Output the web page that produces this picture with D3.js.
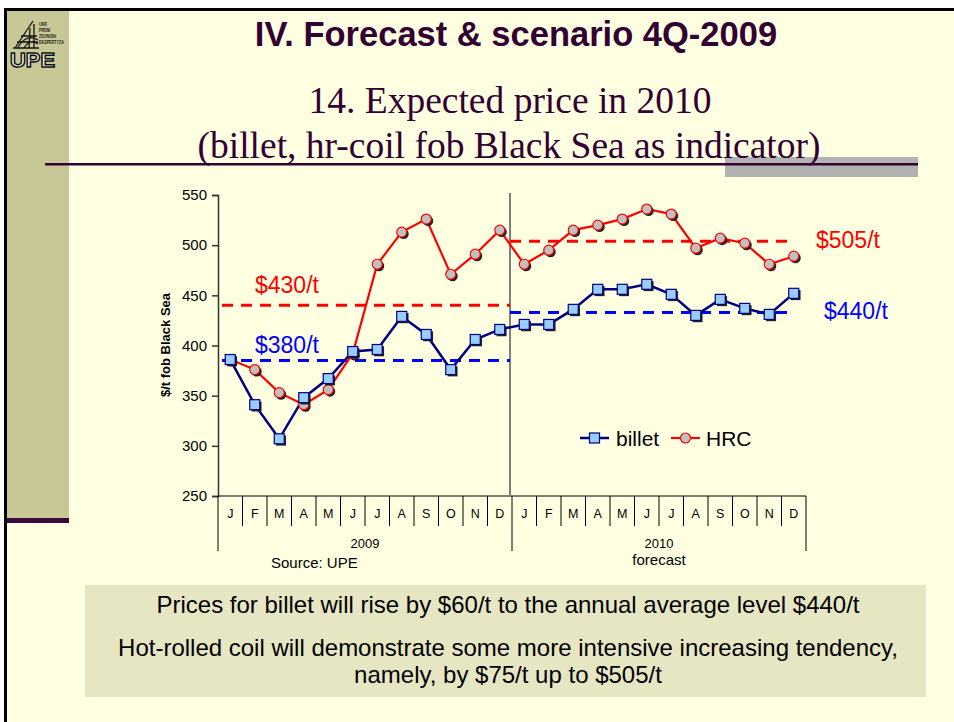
<!DOCTYPE html>
<html>
<head>
<meta charset="utf-8">
<script src="https://cdn.jsdelivr.net/npm/d3@7"></script>
<style>
  body { margin: 0; background: #fff; }
  svg { display: block; }
  text { font-family: Arial, "Liberation Sans", sans-serif; }
</style>
</head>
<body>
<svg width="954" height="722"></svg>
<script>
const months = ["J", "F", "M", "A", "M", "J", "J", "A", "S", "O", "N", "D"];
const years = ["2009", "2010"];
const yearNotes = ["", "forecast"];

// $/t fob Black Sea, Jan 2009 .. Dec 2010
const billet = [386, 341, 307, 348, 367, 394, 396, 429, 411, 376, 406, 416,
                421, 421, 436, 456, 456, 461, 451, 430, 446, 437, 431, 452];
const hrc = [386, 376, 353, 341, 356, 392, 481, 513, 526, 471, 491, 515,
             481, 495, 515, 520, 526, 536, 531, 497, 507, 502, 481, 489];

// yearly average levels (where the dashed lines sit) and their labels
const billetAvg = [385, 433];
const hrcAvg = [440, 504];
const billetAvgLabels = ["$380/t", "$440/t"];
const hrcAvgLabels = ["$430/t", "$505/t"];

const yTicks = [250, 300, 350, 400, 450, 500, 550];

const notes = [
  "Prices for billet will rise by $60/t to the annual average level $440/t",
  "Hot-rolled coil will demonstrate some more intensive increasing tendency,",
  "namely, by $75/t up to $505/t"
];

const periods = years.flatMap(yr => months.map((m, i) => ({ year: yr, month: m, key: yr + "-" + i })));

const svg = d3.select("svg");
const purple = "#330033";
const serif = "'Liberation Serif', 'Times New Roman', serif";

// slide background
svg.append("rect").attr("x", 4).attr("y", 8).attr("width", 950).attr("height", 714).attr("fill", "#ffffe1");
svg.append("rect").attr("x", 7).attr("y", 11).attr("width", 62).attr("height", 507).attr("fill", "#c8c896");
svg.append("rect").attr("x", 7).attr("y", 518).attr("width", 62).attr("height", 5).attr("fill", "#3a0a3a");
svg.append("rect").attr("x", 4).attr("y", 8).attr("width", 950).attr("height", 3).attr("fill", "#000");
svg.append("rect").attr("x", 4).attr("y", 8).attr("width", 3).attr("height", 714).attr("fill", "#000");

// logo
const logo = svg.append("g").attr("stroke", "#111").attr("fill", "none").attr("stroke-width", 1.3);
logo.append("path").attr("d",
  "M15,48 L33,21 M13,48 L39,48 M17,42 L38,42 M21,36 L37,36 M18,47 Q27,33 38,40 M24,48 Q30,38 38,44 M29,48 L30,28 M34,48 L34,24");
["UKR", "PROM", "ZOVNISH", "EKSPERTYZA"].forEach((t, i) => {
  svg.append("text").attr("x", 39).attr("y", 26 + i * 6).attr("font-size", 5).attr("font-weight", "bold")
    .attr("fill", "#222").attr("textLength", [8, 11, 17, 25][i]).attr("lengthAdjust", "spacingAndGlyphs").text(t);
});
svg.append("text").attr("x", 10).attr("y", 67).attr("font-size", 20).attr("font-weight", "bold")
  .attr("fill", "#fff").attr("stroke", "#111").attr("stroke-width", 1.4)
  .attr("textLength", 45).attr("lengthAdjust", "spacingAndGlyphs").text("UPE");

// titles
svg.append("text").attr("x", 516).attr("y", 46).attr("text-anchor", "middle")
  .attr("font-size", 34.5).attr("font-weight", "bold").attr("fill", purple)
  .text("IV. Forecast & scenario 4Q-2009");
svg.append("rect").attr("x", 725).attr("y", 157).attr("width", 193).attr("height", 20).attr("fill", "#b2b2b2");
svg.append("rect").attr("x", 45).attr("y", 163).attr("width", 873).attr("height", 2.5).attr("fill", purple);
svg.append("text").attr("x", 510).attr("y", 113).attr("text-anchor", "middle")
  .style("font-family", serif).attr("font-size", 37.5).attr("fill", purple)
  .text("14. Expected price in 2010");
svg.append("text").attr("x", 509).attr("y", 158).attr("text-anchor", "middle")
  .style("font-family", serif).attr("font-size", 37.5).attr("fill", purple)
  .text("(billet, hr-coil fob Black Sea as indicator)");

// scales
const x = d3.scaleBand().domain(periods.map(d => d.key)).range([218, 806]).padding(0);
const y = d3.scaleLinear().domain([250, 550]).range([496, 195]);
const bw = x.bandwidth();
const cx = i => x(periods[i].key) + bw / 2;
const yearStart = yi => x(years[yi] + "-0");
const yearEnd = yi => x(years[yi] + "-11") + bw;

// y axis
const yAxis = svg.append("g").attr("transform", "translate(218,0)")
  .call(d3.axisLeft(y).tickValues(yTicks).tickSize(6).tickPadding(5));
yAxis.selectAll("path, line").attr("stroke", "#333").attr("stroke-width", 1.5);
yAxis.selectAll("text").attr("font-size", 15).attr("fill", "#000").style("font-family", "Arial, 'Liberation Sans', sans-serif");

svg.append("text").attr("transform", "translate(170,345) rotate(-90)").attr("text-anchor", "middle")
  .attr("font-size", 13).attr("font-weight", "bold").text("$/t fob Black Sea");

// category axis: months then years
const cat = svg.append("g");
cat.append("line").attr("x1", 218).attr("x2", 806).attr("y1", 496).attr("y2", 496)
  .attr("stroke", "#000").attr("stroke-width", 1.2);
cat.selectAll(".sep").data(d3.range(1, 24).filter(i => i % 12 !== 0)).join("line")
  .attr("x1", i => x(periods[i].key)).attr("x2", i => x(periods[i].key))
  .attr("y1", 496).attr("y2", 526).attr("stroke", "#000");
cat.selectAll(".ysep").data([0, 1, 2]).join("line")
  .attr("x1", i => i < 2 ? yearStart(i) : yearEnd(1)).attr("x2", i => i < 2 ? yearStart(i) : yearEnd(1))
  .attr("y1", 496).attr("y2", 551).attr("stroke", "#000");
cat.selectAll(".mlab").data(periods).join("text")
  .attr("x", (d, i) => cx(i)).attr("y", 518).attr("text-anchor", "middle")
  .attr("font-size", 12.5).text(d => d.month);
cat.selectAll(".ylab").data(years).join("text")
  .attr("x", (d, i) => (yearStart(i) + yearEnd(i)) / 2).attr("y", 548).attr("text-anchor", "middle")
  .attr("font-size", 13).text(d => d);
cat.selectAll(".ynote").data(yearNotes).join("text")
  .attr("x", (d, i) => (yearStart(i) + yearEnd(i)) / 2).attr("y", 565).attr("text-anchor", "middle")
  .attr("font-size", 15).text(d => d);
svg.append("text").attr("x", 271).attr("y", 568).attr("font-size", 15).text("Source: UPE");

// divider between actual and forecast
svg.append("line").attr("x1", yearStart(1) - 2).attr("x2", yearStart(1) - 2).attr("y1", 193).attr("y2", 496)
  .attr("stroke", "#808080").attr("stroke-width", 2);

// average dashed lines
const avgX = [[yearStart(0) + 4, yearStart(1) - 2], [yearStart(1) - 2, cx(23) + 1]];
function avgLines(vals, color) {
  svg.selectAll(null).data(vals).join("line")
    .attr("x1", (d, i) => avgX[i][0]).attr("x2", (d, i) => avgX[i][1])
    .attr("y1", d => y(d)).attr("y2", d => y(d))
    .attr("stroke", color).attr("stroke-width", 3).attr("stroke-dasharray", "11,8");
}
avgLines(hrcAvg, "#ff0000");
avgLines(billetAvg, "#0000ff");

const line = d3.line().x((d, i) => cx(i)).y(d => y(d));

// HRC
svg.append("path").datum(hrc).attr("d", line).attr("fill", "none").attr("stroke", "#ff0000").attr("stroke-width", 2.2);
// billet
svg.append("path").datum(billet).attr("d", line).attr("fill", "none").attr("stroke", "#000080").attr("stroke-width", 2.5);

function circles(vals) {
  const g = svg.append("g");
  g.selectAll(".sh").data(vals).join("circle").attr("cx", (d, i) => cx(i) + 1.8).attr("cy", d => y(d) + 1.8)
    .attr("r", 5.2).attr("fill", "#222");
  g.selectAll(".pt").data(vals).join("circle").attr("cx", (d, i) => cx(i)).attr("cy", d => y(d))
    .attr("r", 5).attr("fill", "#c0c0c0").attr("stroke", "#ff0000").attr("stroke-width", 1.2);
}
function squares(vals) {
  const g = svg.append("g");
  g.selectAll(".sh").data(vals).join("rect").attr("x", (d, i) => cx(i) - 5 + 1.8).attr("y", d => y(d) - 5 + 1.8)
    .attr("width", 10).attr("height", 10).attr("fill", "#222");
  g.selectAll(".pt").data(vals).join("rect").attr("x", (d, i) => cx(i) - 5).attr("y", d => y(d) - 5)
    .attr("width", 10).attr("height", 10).attr("fill", "#99ccff").attr("stroke", "#000080").attr("stroke-width", 1.2);
}
circles(hrc);
squares(billet);

// average labels
svg.append("text").attr("x", 255).attr("y", y(hrcAvg[0]) - 12).attr("font-size", 23).attr("fill", "#ff0000").text(hrcAvgLabels[0]);
svg.append("text").attr("x", 255).attr("y", y(billetAvg[0]) - 8).attr("font-size", 23).attr("fill", "#0000ff").text(billetAvgLabels[0]);
svg.append("text").attr("x", 816).attr("y", y(hrcAvg[1]) + 7).attr("font-size", 23).attr("fill", "#ff0000").text(hrcAvgLabels[1]);
svg.append("text").attr("x", 824).attr("y", y(billetAvg[1]) + 7).attr("font-size", 23).attr("fill", "#0000ff").text(billetAvgLabels[1]);

// legend
const lg = svg.append("g").attr("transform", "translate(580,438)");
lg.append("line").attr("x1", 0).attr("x2", 29).attr("stroke", "#000080").attr("stroke-width", 2.5);
lg.append("rect").attr("x", 9.5).attr("y", -5).attr("width", 10).attr("height", 10).attr("fill", "#99ccff").attr("stroke", "#000080").attr("stroke-width", 1.2);
lg.append("text").attr("x", 36).attr("y", 7.5).attr("font-size", 21).text("billet");
lg.append("line").attr("x1", 91).attr("x2", 120).attr("stroke", "#ff0000").attr("stroke-width", 2.2);
lg.append("circle").attr("cx", 105.5).attr("r", 5).attr("fill", "#c0c0c0").attr("stroke", "#ff0000").attr("stroke-width", 1.2);
lg.append("text").attr("x", 126).attr("y", 7.5).attr("font-size", 21).text("HRC");

// note box
svg.append("rect").attr("x", 85).attr("y", 585).attr("width", 841).attr("height", 112).attr("fill", "#e6e6c3");
svg.selectAll(".note").data(notes).join("text")
  .attr("x", 508).attr("y", (d, i) => [613, 656, 683][i]).attr("text-anchor", "middle")
  .attr("font-size", 24).attr("fill", "#000").text(d => d);
</script>
</body>
</html>
